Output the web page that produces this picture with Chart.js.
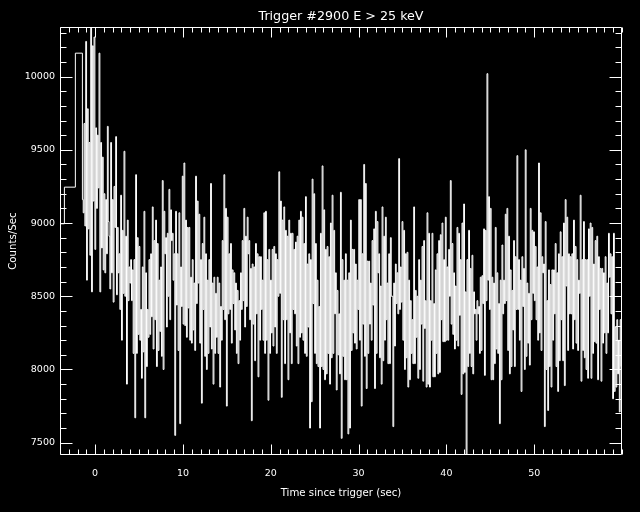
<!DOCTYPE html>
<html>
<head>
<meta charset="utf-8">
<script src="https://cdn.jsdelivr.net/npm/chart.js@4"></script>
<style>
  html, body { margin: 0; padding: 0; background: #000; }
  #wrap { width: 640px; height: 512px; }
</style>
</head>
<body>
<div id="wrap"><canvas id="chart1" width="640" height="512"></canvas></div>
<script>
// coarse pre-trigger bins: start time (sec) and rate
var preTimes = [-4.0, -3.5, -2.25];
var preCounts = [8995, 9245, 10160];

// fine bins start at fineStart, each fineWidth sec long
var fineStart = -1.45;
var fineWidth = 0.0948;

// -1.45 .. 12.4 s
var countsA = [9160,9070, 9680,8980, 10240,8610, 9780,8960, 9550,8780, 10340,8530, 10210,9150, 10270,8820,
  9650,9100, 9600,9240, 10160,8530, 9550,8830, 9450,8680, 9200,8660, 9160,8790, 9660,9010, 8910,8550,
  9550,8660, 9160,8460, 9250,8970, 9590,8510, 8970,8660, 8790,8410, 9190,8200, 8950,8520, 9490,8500,
  8910,7900, 9020,8470, 8700,8590, 8750,8470, 8680,8110, 8750,7670, 9330,8110, 8900,8240, 8840,8200,
  8410,7940, 8700,8120, 9080,7670, 8660,8020, 8410,8220, 8750,8240, 8790,8360, 9110,8140, 8880,8340,
  9020,8020, 8860,8130, 8610,8260, 8700,8090, 9290,8000, 9080,8790, 8900,8290, 8930,8500, 9230,8340,
  9090,8880, 8930,8610, 8790,7550, 9080,8440, 8790,8130, 9070,7630, 8700,8430, 9320,8310, 9410,8300,
  9020,8220, 8970,8420, 8970,8200, 8630,8180, 8750,8270, 8590,8130, 9320,8450, 9150,8590, 9060,8180,
  8750,7770, 8860,8410];
// 12.4 .. 28.3 s
var countsB = [9040,8090, 8790,8000, 8610,8110, 8750,8290, 9270,8140, 8590,7900, 8630,8110, 8520,8220,
  8630,8110, 8590,7880, 8430,8200, 8880,8410, 9330,8340, 9100,7750, 9040,8380, 8790,8410, 8860,8180,
  8680,8450, 8660,8270, 8590,8110, 8540,8040, 8470,8200, 8660,8410, 8880,8470, 9100,8290, 8910,8430,
  9040,8790, 8880,8340, 8690,7650, 8720,8310, 8700,8060, 8860,8380, 8790,7950, 8770,8200, 8770,8410,
  8610,8200, 9070,8110, 9080,8200, 8750,7790, 8820,8110, 8610,8250, 8820,8160, 8840,8290, 8790,8110,
  8750,8500, 9350,8520, 9150,7810, 9020,8340, 9110,8040, 8950,8340, 8910,7930, 9020,8250, 8930,8040,
  8930,8410, 8820,8380, 8870,8160, 8910,8040, 9020,8220, 9080,8250, 9040,8200, 8860,8110, 9180,8090,
  8720,8290, 8790,7600, 8750,7780, 9300,8450, 9200,8110, 8860,8040, 8610,8020, 8430,7600, 8930,8020,
  9390,8000, 9090,7930, 8820,7970, 8840,8110, 8770,7900, 9000,8080, 9190,8110, 8950,8380, 8660,7860,
  8540,8100, 8380,7970, 9210,7530, 8750,8090];
// 28.3 .. 44.2 s
var countsC = [8610,7930, 8790,7930, 8610,7560, 8660,7600, 9020,8130, 8820,8250, 8820,8180, 8720,8140,
  8610,8410, 9160,8200, 9160,7750, 8790,8310, 9400,8090, 9270,7870, 8740,8110, 8740,8310, 8590,8200,
  8880,8440, 8960,7870, 9080,8110, 9010,8660, 8790,8080, 8570,7900, 9110,8060, 8910,8200, 9040,8340,
  8590,8040, 8790,8040, 8900,8500, 8500,7610, 8590,8160, 8720,8450, 8660,8380, 9440,8410, 8700,8460,
  9010,8200, 8950,8000, 8790,8080, 8800,7880, 8610,7930, 8470,8110, 8340,8040, 9110,8040, 8540,8220,
  8500,7940, 8750,8000, 8610,8310, 8840,7920, 8880,8280, 8470,7880, 9070,7900, 8930,7880, 8470,8200,
  8930,7950, 8450,7950, 8680,8110, 8790,7970, 8880,7980, 8920,8340, 9000,8190, 8750,8190, 9040,8200,
  8700,8200, 8820,8500, 9290,8310, 8860,8240, 8660,8140, 8570,8200, 8970,8160, 8930,8370, 8750,7830,
  9000,7970, 9130,7980, 8530,7400, 8750,8020, 8950,8110, 8690,8020, 8780,7970, 8530,8380, 8410,8200,
  8470,8380, 8430,8110, 8630,8130, 8640,8450];
// 44.2 .. 60 s
var countsD = [8960,7960, 8950,8470, 10020,8610, 9180,8410, 9100,7930, 8630,7930, 8590,8040, 8970,8140,
  8660,8110, 8450,7630, 8610,7930, 8850,8380, 8610,8450, 9060,8470, 9100,8130, 8910,7970, 8680,8020,
  8540,8270, 8880,8020, 8770,8410, 9460,8410, 8750,8200, 8610,7850, 8770,8430, 8690,8000, 9500,8090,
  8590,8180, 8520,8030, 9100,8340, 8950,8520, 8940,8470, 8840,8340, 8700,8200, 9410,8250, 9070,8130,
  8770,8660, 8720,7610, 9010,8000, 8470,7720, 8680,8020, 8580,7880, 8680,8200, 8680,8380, 8860,8020,
  8660,7850, 8790,8060, 8940,8340, 8770,8060, 9000,7890, 9160,8570, 9040,8130, 8790,8380, 8770,8380,
  8790,8140, 9020,8340, 8840,8180, 8750,8130, 8610,8520, 9190,7920, 8750,8130, 9010,8080, 8750,8000,
  8750,7940, 8960,8500, 9000,7940, 8970,8110, 8720,8190, 8880,8180, 8910,7930, 8770,8410, 8690,7920,
  8690,8180, 8660,8250, 8770,8110, 8590,8250, 8930,8630, 8790,8380, 8770,7800, 8930,7850, 8290,7880,
  8340,7970, 8200,7710, 8340,8020];

var xRange = [-4, 60];
var yRange = [7416, 10337];
var xTicks = [0, 10, 20, 30, 40, 50];
var yTicks = [7500, 8000, 8500, 9000, 9500, 10000];
var xMinor = 1;
var yMinor = 100;

var fineCounts = countsA.concat(countsB, countsC, countsD);
var points = [];
for (var i = 0; i < preTimes.length; i++) {
  points.push({x: preTimes[i], y: preCounts[i]});
}
for (var j = 0; j < fineCounts.length; j++) {
  points.push({x: fineStart + j * fineWidth, y: fineCounts[j]});
}
points.push({x: xRange[1], y: fineCounts[fineCounts.length - 1]});

var txtFont = '"DejaVu Sans", sans-serif';

// box around the plot with inward ticks on all four sides
var frameTicks = {
  id: 'frameTicks',
  afterDraw: function(chart) {
    var ctx = chart.ctx;
    var xs = chart.scales.x, ys = chart.scales.y;
    var L = Math.round(xs.getPixelForValue(xRange[0])) + 0.5;
    var R = Math.round(xs.getPixelForValue(xRange[1])) - 0.5;
    var T = Math.round(ys.getPixelForValue(yRange[1])) + 0.5;
    var B = Math.round(ys.getPixelForValue(yRange[0])) - 0.5;
    ctx.save();
    ctx.strokeStyle = '#fff';
    ctx.lineWidth = 1;
    ctx.beginPath();
    ctx.rect(L, T, R - L, B - T);
    var t, p, len;
    for (t = Math.ceil(xRange[0]); t <= xRange[1]; t += xMinor) {
      p = Math.round(xs.getPixelForValue(t)) + 0.5;
      len = xTicks.indexOf(t) >= 0 ? 10 : 5;
      ctx.moveTo(p, B); ctx.lineTo(p, B - len);
      ctx.moveTo(p, T); ctx.lineTo(p, T + len);
    }
    for (t = Math.ceil(yRange[0] / yMinor) * yMinor; t <= yRange[1]; t += yMinor) {
      p = Math.round(ys.getPixelForValue(t)) + 0.5;
      len = yTicks.indexOf(t) >= 0 ? 12 : 6;
      ctx.moveTo(L, p); ctx.lineTo(L + len, p);
      ctx.moveTo(R, p); ctx.lineTo(R - len, p);
    }
    ctx.stroke();
    ctx.restore();
  }
};

var ctx = document.getElementById('chart1').getContext('2d');
var chart = new Chart(ctx, {
  type: 'line',
  data: {
    datasets: [{
      data: points,
      borderColor: '#ffffff',
      borderWidth: 1,
      pointRadius: 0,
      stepped: 'before',
      fill: false
    }]
  },
  options: {
    responsive: false,
    animation: false,
    layout: { padding: { left: 0, right: 18, top: 0, bottom: 0 } },
    plugins: {
      legend: { display: false },
      tooltip: { enabled: false },
      title: {
        display: true,
        fullSize: false,
        text: 'Trigger #2900 E > 25 keV',
        color: '#ffffff',
        font: { family: txtFont, size: 12.7, weight: 'normal' },
        padding: { top: 9, bottom: 3 }
      }
    },
    scales: {
      x: {
        type: 'linear',
        min: xRange[0],
        max: xRange[1],
        afterBuildTicks: function(s) { s.ticks = xTicks.map(function(v) { return {value: v}; }); },
        afterFit: function(s) { s.height = 57; },
        grid: { display: false, drawTicks: false },
        border: { display: false },
        ticks: { color: '#ffffff', padding: 13, maxRotation: 0, font: { family: txtFont, size: 9.5 },
          callback: function(v) { return String(v); } },
        title: { display: true, text: 'Time since trigger (sec)', color: '#ffffff',
          font: { family: txtFont, size: 10.2 }, padding: { top: 0, bottom: 13 } }
      },
      y: {
        type: 'linear',
        min: yRange[0],
        max: yRange[1],
        afterBuildTicks: function(s) { s.ticks = yTicks.map(function(v) { return {value: v}; }); },
        afterFit: function(s) { s.width = 60; },
        grid: { display: false, drawTicks: false },
        border: { display: false },
        ticks: { color: '#ffffff', padding: 5, font: { family: txtFont, size: 9.5 },
          callback: function(v) { return String(v); } },
        title: { display: true, text: 'Counts/Sec', color: '#ffffff',
          font: { family: txtFont, size: 10.2 }, padding: { top: 7, bottom: 0 } }
      }
    }
  },
  plugins: [frameTicks]
});
</script>
</body>
</html>
